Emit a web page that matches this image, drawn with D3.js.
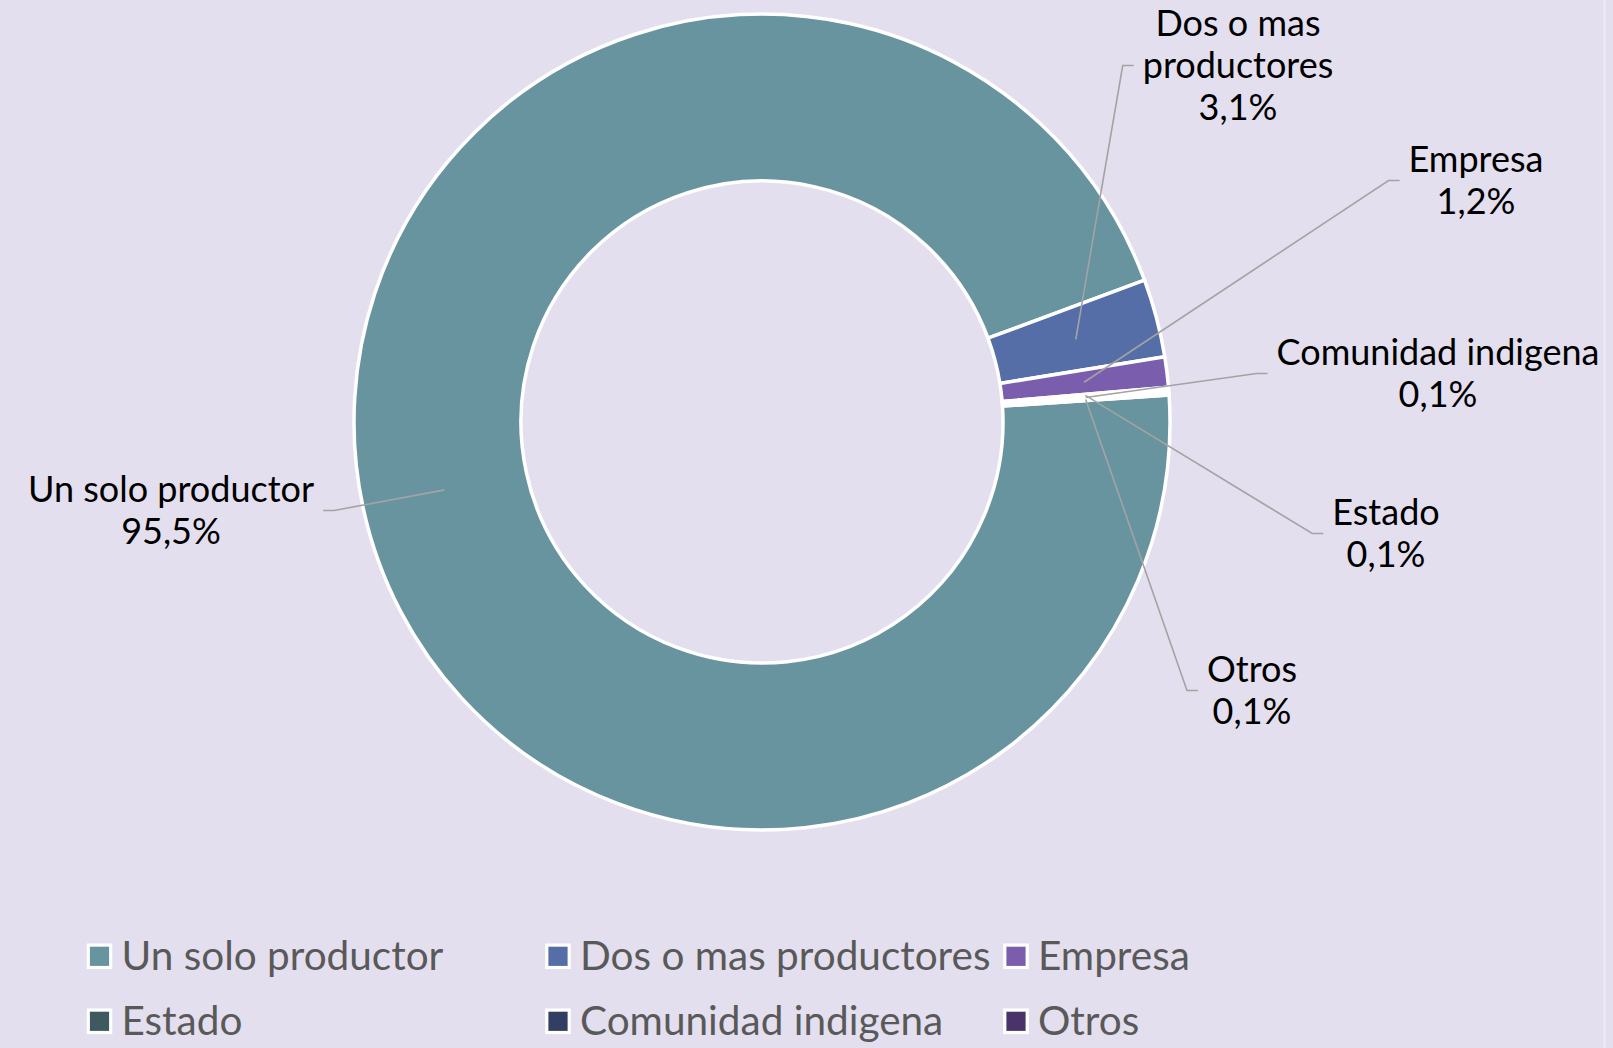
<!DOCTYPE html>
<html>
<head>
<meta charset="utf-8">
<script src="https://cdn.jsdelivr.net/npm/d3@7"></script>
<style>
  html, body { margin: 0; padding: 0; background: #e3dfee; }
  svg { display: block; }
  text { font-family: Lato, "Open Sans", sans-serif; }
</style>
</head>
<body>
<div id="chart"></div>
<script>
// data
var categories = ["Un solo productor", "Dos o mas productores", "Empresa", "Estado", "Comunidad indigena", "Otros"];
var values = [95.5, 3.1, 1.2, 0.1, 0.1, 0.1];
var colors = ["#6894a0", "#566ea7", "#7a5ead", "#3e5960", "#323f62", "#483469"];

function init() {
    var w = 1613;
    var h = 1048;
    var cx = 762, cy = 422;
    var outerR = 408, innerR = 241;
    var firstAngle = 86.2 * Math.PI / 180; // excel "first slice angle"

    // label layout: centre x and first baseline for each data label
    var labelLayout = [
        { x: 171, y: 502, side: "left" },
        { x: 1238, y: 36, side: "right" },
        { x: 1476, y: 172, side: "right" },
        { x: 1386, y: 525, side: "right" },
        { x: 1438, y: 365, side: "right" },
        { x: 1252, y: 682, side: "right" }
    ];
    var lineH = 42;

    var locale = d3.formatLocale({ decimal: ",", thousands: ".", grouping: [3], currency: ["", ""] });
    var pct = locale.format(".1f");

    var svg = d3.select("#chart")
        .append("svg")
        .attr("width", w)
        .attr("height", h);

    svg.append("rect")
        .attr("width", w)
        .attr("height", h)
        .attr("fill", "#e3dfee");

    // thin light edge on the right
    svg.append("line")
        .attr("x1", 1604.5).attr("x2", 1604.5)
        .attr("y1", 0).attr("y2", h)
        .attr("stroke", "#efecf5")
        .attr("stroke-width", 2);

    var pie = d3.pie()
        .sort(null)
        .startAngle(firstAngle)
        .endAngle(firstAngle + 2 * Math.PI);

    var arcs = pie(values);

    var arc = d3.arc()
        .innerRadius(innerR)
        .outerRadius(outerR);

    var g = svg.append("g")
        .attr("transform", "translate(" + cx + "," + cy + ")");

    g.selectAll("path.slice")
        .data(arcs)
        .enter()
        .append("path")
        .attr("class", "slice")
        .attr("d", arc)
        .attr("fill", function(d, i) { return colors[i]; })
        .attr("stroke", "#ffffff")
        .attr("stroke-width", 3.5)
        .attr("stroke-linejoin", "round");

    // data labels
    var labels = svg.append("g");
    arcs.forEach(function(d, i) {
        var lay = labelLayout[i];
        var lines = categories[i] == "Dos o mas productores" ? ["Dos o mas", "productores"] : [categories[i]];
        lines.push(pct(values[i]) + "%");

        var t = labels.append("text")
            .attr("text-anchor", "middle")
            .attr("font-size", "36px")
            .attr("fill", "#000000");
        lines.forEach(function(s, k) {
            t.append("tspan")
                .attr("x", lay.x)
                .attr("y", lay.y + k * lineH)
                .text(s);
        });

        var bb = t.node().getBBox();
        var c = arc.centroid(d);
        var sx = cx + c[0], sy = cy + c[1];
        // leader meets the label at the middle of the text block
        var ly = lay.y + 8.5 + (lines.length - 2) * 21;
        var ex, bx;
        if (lay.side == "right") {
            ex = bb.x - 9;
            bx = ex - 11;
        } else {
            ex = bb.x + bb.width + 9;
            bx = ex + 11;
        }
        labels.append("polyline")
            .attr("points", [[sx, sy], [bx, ly], [ex, ly]].map(function(p) { return p.join(","); }).join(" "))
            .attr("fill", "none")
            .attr("stroke", "#a3a3a3")
            .attr("stroke-width", 1.6);
    });

    // legend
    var legendCols = [99.5, 558, 1016];
    var legendRows = [956.3, 1021.3];
    var legend = svg.append("g");
    categories.forEach(function(name, i) {
        var mx = legendCols[i % 3];
        var my = legendRows[Math.floor(i / 3)];
        legend.append("rect")
            .attr("x", mx - 11.2)
            .attr("y", my - 11.2)
            .attr("width", 22.4)
            .attr("height", 22.4)
            .attr("fill", colors[i])
            .attr("stroke", "#ffffff")
            .attr("stroke-width", 3.2);
        legend.append("text")
            .attr("x", mx + 22)
            .attr("y", my + 13.7)
            .attr("font-size", "40.5px")
            .attr("fill", "#595959")
            .text(name);
    });
}

window.onload = init;
</script>
</body>
</html>
